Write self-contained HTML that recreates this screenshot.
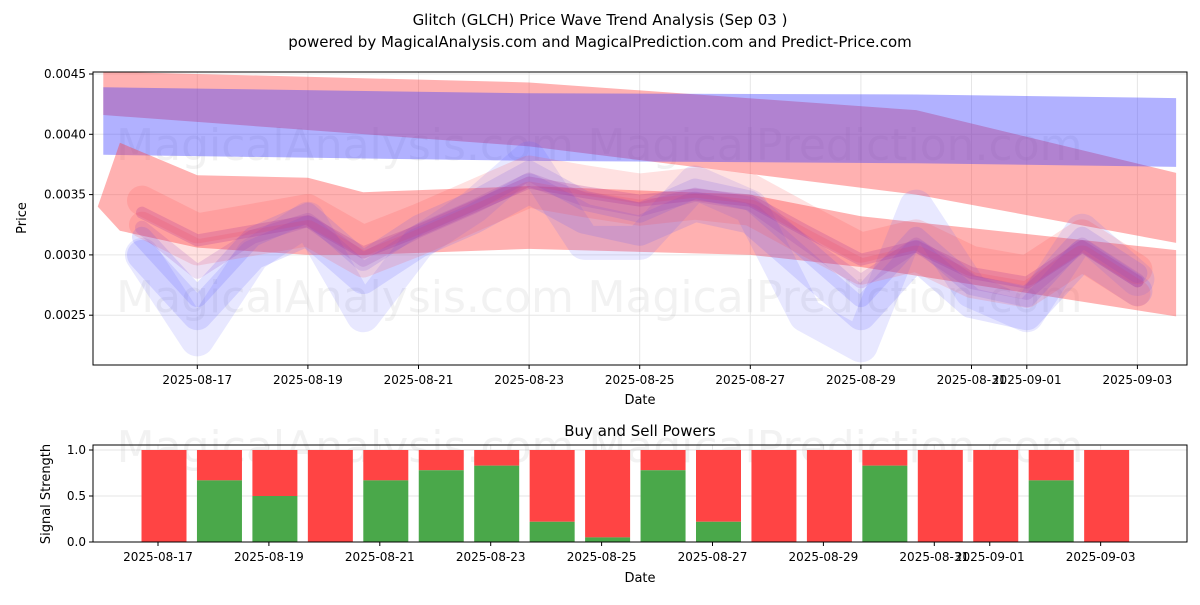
<!DOCTYPE html>
<html><head><meta charset="utf-8"><style>
body{margin:0;background:#fff;font-family:"Liberation Sans","DejaVu Sans",sans-serif}
</style></head><body>
<svg id="c" width="1200" height="600" xmlns="http://www.w3.org/2000/svg" font-family="DejaVu Sans, Liberation Sans, sans-serif">
<text x="600" y="25" text-anchor="middle" font-size="15">Glitch (GLCH) Price Wave Trend Analysis (Sep 03 )</text>
<text x="600" y="47" text-anchor="middle" font-size="15">powered by MagicalAnalysis.com and MagicalPrediction.com and Predict-Price.com</text>
<g id="topg"></g><g id="botg"></g>
</svg>
<script>
const days=["08-16","08-17","08-18","08-19","08-20","08-21","08-22","08-23","08-24","08-25","08-26","08-27","08-28","08-29","08-30","08-31","09-01","09-02","09-03"];
const redCore=[0.00335,0.00312,0.0032,0.00328,0.00302,0.0032,0.0034,0.0036,0.00352,0.00345,0.0035,0.00345,0.0032,0.00296,0.00307,0.00285,0.00277,0.00307,0.00278];
const blueCore=[0.0031,0.0026,0.0031,0.0033,0.0029,0.0032,0.0034,0.00365,0.0034,0.0033,0.0035,0.0034,0.003,0.0026,0.0031,0.0027,0.0026,0.0031,0.0028];
const blueWide=[0.003,0.0023,0.003,0.0033,0.0025,0.0031,0.0034,0.0038,0.0031,0.0031,0.0036,0.0034,0.0025,0.00225,0.0034,0.0027,0.0025,0.0032,0.0028];
const trendDays=[-0.7,7,14,18.7];
const redTopHi=[0.00452,0.00443,0.0042,0.00368];
const redTopLo=[0.00416,0.0039,0.0035,0.0031];
const blueHi=[0.00439,0.00434,0.00433,0.0043];
const blueLo=[0.00383,0.00378,0.00376,0.00373];
const redLowDays=[-0.8,-0.4,1,3,4,7,11,13,18.7];
const redLowHi=[0.00340,0.00393,0.00366,0.00364,0.00352,0.00357,0.0035,0.00332,0.00304];
const redLowLo=[0.00340,0.0032,0.00306,0.0030,0.0030,0.00305,0.0030,0.0029,0.00249];
const buyDays=["08-17","08-18","08-19","08-20","08-21","08-22","08-23","08-24","08-25","08-26","08-27","08-28","08-29","08-30","08-31","09-01","09-02","09-03"];
const buyVals=[0,0.67,0.5,0,0.67,0.78,0.83,0.22,0.05,0.78,0.22,0,0,0.83,0,0,0.67,0];
const yTicks=[0.0025,0.0030,0.0035,0.0040,0.0045];
const xTickLabels=["2025-08-17","2025-08-19","2025-08-21","2025-08-23","2025-08-25","2025-08-27","2025-08-29","2025-08-31","2025-09-01","2025-09-03"];
const xTickDays=[1,3,5,7,9,11,13,15,16,18];

const NS="http://www.w3.org/2000/svg";
function mk(p,t,a){const e=document.createElementNS(NS,t);for(const k in a)e.setAttribute(k,a[k]);p.appendChild(e);return e;}
const L=93,R=1187,T=72,B=365;
const X=d=>142+d*55.3;
const Y=v=>74+(0.0045-v)*120600;
const topG=document.getElementById('topg');
xTickDays.forEach(d=>{const g=mk(topG,'line',{x1:X(d),x2:X(d),y1:T,y2:B,stroke:'#e6e6e6'});});
yTicks.forEach(v=>{const g=mk(topG,'line',{x1:L,x2:R,y1:Y(v),y2:Y(v),stroke:'#e6e6e6'});});
[[345,160],[835,160],[345,312],[835,312]].forEach((p,i)=>{const t=mk(topG,'text',{x:p[0],y:p[1],'text-anchor':'middle','font-size':44,fill:'rgba(150,150,150,0.12)'});t.textContent=i%2?'MagicalPrediction.com':'MagicalAnalysis.com';});
function band(xs,hi,lo,fill,name){let pts=xs.map((d,i)=>X(d)+','+Y(hi[i]));for(let i=xs.length-1;i>=0;i--)pts.push(X(xs[i])+','+Y(lo[i]));const p=mk(topG,'polygon',{points:pts.join(' '),fill});}
band(trendDays,redTopHi,redTopLo,'rgba(255,60,60,0.4)','red-trend-band-upper');
band(trendDays,blueHi,blueLo,'rgba(60,60,255,0.4)','blue-trend-band');
band(redLowDays,redLowHi,redLowLo,'rgba(255,60,60,0.4)','red-trend-band-lower');
function wave(arr,off,w,col,name){const pts=arr.map((v,i)=>X(i)+','+Y(v+off)).join(' ');const p=mk(topG,'polyline',{points:pts,fill:'none',stroke:col,'stroke-width':w,'stroke-linejoin':'round','stroke-linecap':'round'});}
wave(blueWide,0,34,'rgba(90,90,255,0.14)','blue-wave-wide');
wave(blueCore,-0.0001,30,'rgba(90,90,255,0.16)','blue-wave');
wave(blueCore,0.00005,20,'rgba(90,90,255,0.18)','blue-wave');
wave(redCore,0.0001,30,'rgba(255,70,70,0.16)','red-wave');
wave(redCore,-0.0001,26,'rgba(255,70,70,0.16)','red-wave');
wave(redCore,0,12,'rgba(170,40,150,0.22)','purple-wave-core');
wave(blueCore.map((v,i)=>(v+redCore[i])/2),0,14,'rgba(140,50,180,0.16)','purple-wave-mid');
mk(topG,'rect',{x:L,y:T,width:R-L,height:B-T,fill:'none',stroke:'#000'});
yTicks.forEach(v=>{mk(topG,'line',{x1:L-4,x2:L,y1:Y(v),y2:Y(v),stroke:'#000'});const t=mk(topG,'text',{x:L-7,y:Y(v)+4,'text-anchor':'end','font-size':12});t.textContent=v.toFixed(4);});
xTickDays.forEach((d,i)=>{mk(topG,'line',{x1:X(d),x2:X(d),y1:B,y2:B+4,stroke:'#000'});const t=mk(topG,'text',{x:X(d),y:B+19,'text-anchor':'middle','font-size':12});t.textContent=xTickLabels[i];});
let t=mk(topG,'text',{x:640,y:404,'text-anchor':'middle','font-size':13});t.textContent='Date';
t=mk(topG,'text',{x:26,y:218,'text-anchor':'middle','font-size':13,transform:'rotate(-90 26 218)'});t.textContent='Price';
const botG=document.getElementById('botg');
const BT=445,BB=542;
const BX=d=>158+(d-1)*55.45;
const BY=v=>542-v*92;
[0,0.5,1].forEach(v=>{const g=mk(botG,'line',{x1:L,x2:R,y1:BY(v),y2:BY(v),stroke:'#e6e6e6'});});
xTickDays.forEach(d=>{const g=mk(botG,'line',{x1:BX(d),x2:BX(d),y1:BT,y2:BB,stroke:'#e6e6e6'});});
t=mk(botG,'text',{x:600,y:462,'text-anchor':'middle','font-size':44,fill:'rgba(150,150,150,0.12)'});t.textContent='MagicalAnalysis.com      MagicalPrediction.com';
buyVals.forEach((v,i)=>{const cx=BX(i+1)+6,w=45;
const r=mk(botG,'rect',{x:cx-w/2,y:BY(1),width:w,height:BY(v)-BY(1),fill:'#ff4444'});
const g=mk(botG,'rect',{x:cx-w/2,y:BY(v),width:w,height:BY(0)-BY(v),fill:'#4aa84a'});});
mk(botG,'rect',{x:L,y:BT,width:R-L,height:BB-BT,fill:'none',stroke:'#000'});
[0,0.5,1].forEach(v=>{mk(botG,'line',{x1:L-4,x2:L,y1:BY(v),y2:BY(v),stroke:'#000'});const t=mk(botG,'text',{x:L-7,y:BY(v)+4,'text-anchor':'end','font-size':12});t.textContent=v.toFixed(1);});
xTickDays.forEach((d,i)=>{mk(botG,'line',{x1:BX(d),x2:BX(d),y1:BB,y2:BB+4,stroke:'#000'});const t=mk(botG,'text',{x:BX(d),y:BB+19,'text-anchor':'middle','font-size':12});t.textContent=xTickLabels[i];});
t=mk(botG,'text',{x:640,y:436,'text-anchor':'middle','font-size':15});t.textContent='Buy and Sell Powers';
t=mk(botG,'text',{x:640,y:582,'text-anchor':'middle','font-size':13});t.textContent='Date';
t=mk(botG,'text',{x:50,y:494,'text-anchor':'middle','font-size':13,transform:'rotate(-90 50 494)'});t.textContent='Signal Strength';
</script>
</body></html>
